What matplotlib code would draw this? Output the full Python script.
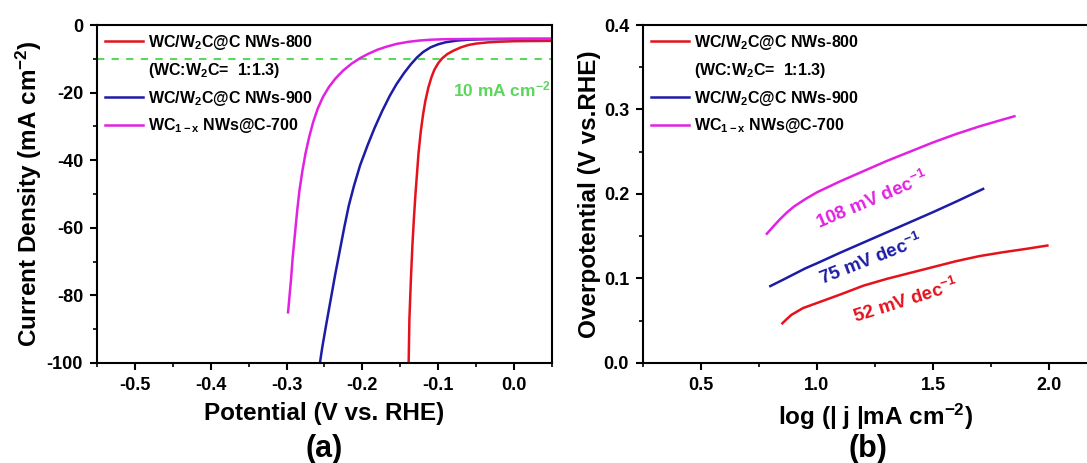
import matplotlib.pyplot as plt
from matplotlib.lines import Line2D
from matplotlib.ticker import MultipleLocator

plt.rcParams['font.family'] = ['Liberation Sans', 'DejaVu Sans']
plt.rcParams['font.weight'] = 'bold'
plt.rcParams['axes.labelweight'] = 'bold'
plt.rcParams['mathtext.fontset'] = 'custom'
plt.rcParams['mathtext.rm'] = 'Liberation Sans:bold'
plt.rcParams['mathtext.bf'] = 'Liberation Sans:bold'
plt.rcParams['mathtext.it'] = 'Liberation Sans:bold'
plt.rcParams['mathtext.default'] = 'bf'
plt.rcParams['axes.unicode_minus'] = False

# (a) polarization curves
lsv_800_x = [0.05, 0.02, 0.0, -0.02, -0.035, -0.05, -0.06, -0.07, -0.08, -0.088, -0.095,
             -0.1, -0.105, -0.109, -0.113, -0.117, -0.12, -0.123, -0.126, -0.128, -0.130,
             -0.132, -0.134, -0.136, -0.138, -0.139]
lsv_800_y = [-4.7, -4.75, -4.8, -4.95, -5.15, -5.5, -5.9, -6.6, -7.6, -8.6, -9.9,
             -11.3, -13.2, -15.5, -18.5, -22.5, -26.5, -31.5, -38, -44, -50,
             -57, -65, -75, -87, -100]
lsv_900_x = [0.05, 0.0, -0.04, -0.06, -0.075, -0.09, -0.1, -0.11, -0.12, -0.128, -0.136,
             -0.145, -0.155, -0.164, -0.174, -0.184, -0.193, -0.203, -0.211, -0.218,
             -0.224, -0.23, -0.236, -0.242, -0.248, -0.253, -0.256]
lsv_900_y = [-4.1, -4.12, -4.2, -4.35, -4.6, -5.1, -5.7, -6.6, -8.0, -9.6, -11.6,
             -14.2, -17.5, -21, -25.5, -30.5, -35.5, -41.5, -47.5, -53.5,
             -60, -67, -74, -81.5, -89, -95.5, -100]
lsv_700_x = [0.05, -0.05, -0.09, -0.11, -0.125, -0.14, -0.155, -0.168, -0.18, -0.192,
             -0.203, -0.214, -0.225, -0.235, -0.244, -0.252, -0.259, -0.265, -0.27,
             -0.275, -0.279, -0.283, -0.286, -0.289, -0.292, -0.294, -0.296, -0.298]
lsv_700_y = [-4.1, -4.12, -4.2, -4.35, -4.6, -5.0, -5.6, -6.4, -7.3, -8.5,
             -9.8, -11.4, -13.4, -15.7, -18.3, -21.3, -24.8, -28.8, -33,
             -38, -43, -49, -55, -62, -69, -75, -80, -85]

# (b) Tafel plots
tafel_800_x = [0.851, 0.87, 0.89, 0.915, 0.94, 0.97, 1.0, 1.05, 1.1, 1.2, 1.3, 1.4,
               1.5, 1.6, 1.7, 1.8, 1.9, 1.993]
tafel_800_y = [0.047, 0.052, 0.057, 0.061, 0.065, 0.068, 0.071, 0.076, 0.081, 0.0915,
               0.0995, 0.1065, 0.1135, 0.1205, 0.1265, 0.131, 0.135, 0.139]
tafel_900_x = [0.799, 0.85, 0.9, 0.95, 1.0, 1.1, 1.2, 1.3, 1.4, 1.5, 1.6, 1.716]
tafel_900_y = [0.091, 0.098, 0.105, 0.112, 0.118, 0.1305, 0.1425, 0.1545, 0.1665,
               0.1785, 0.191, 0.206]
tafel_700_x = [0.784, 0.81, 0.84, 0.87, 0.9, 0.95, 1.0, 1.1, 1.2, 1.3, 1.4, 1.5, 1.6,
               1.7, 1.8, 1.851]
tafel_700_y = [0.153, 0.161, 0.170, 0.178, 0.185, 0.194, 0.202, 0.215, 0.227, 0.239,
               0.250, 0.261, 0.271, 0.280, 0.288, 0.292]

labels = ['WC/W$_2$C@C NWs-800', '(WC:W$_2$C=  1:1.3)', 'WC/W$_2$C@C NWs-900',
          'WC$_{1-x}$ NWs@C-700']
slopes = ['52 mV dec$^{-1}$', '75 mV dec$^{-1}$', '108 mV dec$^{-1}$']

red, blue, magenta, green = '#e5121c', '#1c1ca6', '#e222e0', '#5cd65c'

fig = plt.figure(figsize=(10.87, 4.63), dpi=100)
ax1 = fig.add_axes([0.0892, 0.216, 0.4186, 0.730])
ax2 = fig.add_axes([0.5915, 0.216, 0.4269, 0.730])

ax1.axhline(-10, color=green, lw=1.5, ls=(0, (3.5, 3.5)))
ax1.plot(lsv_800_x, lsv_800_y, color=red, lw=1.8)
ax1.plot(lsv_900_x, lsv_900_y, color=blue, lw=1.8)
ax1.plot(lsv_700_x, lsv_700_y, color=magenta, lw=1.8)
ax1.text(-0.081, -19.2, '10 mA cm$^{-2}$', color=green, fontsize=12.5,
         va='center', ha='left', clip_on=True)

ax2.plot(tafel_800_x, tafel_800_y, color=red, lw=1.8)
ax2.plot(tafel_900_x, tafel_900_y, color=blue, lw=1.8)
ax2.plot(tafel_700_x, tafel_700_y, color=magenta, lw=1.8)
ax2.text(1.381, 0.074, slopes[0], color=red, fontsize=13.5, rotation=17.5,
         ha='center', va='center')
ax2.text(1.231, 0.122, slopes[1], color=blue, fontsize=13.5, rotation=21.5,
         ha='center', va='center')
ax2.text(1.239, 0.193, slopes[2], color=magenta, fontsize=13.5, rotation=23,
         ha='center', va='center')

handles = [Line2D([], [], color=red, lw=1.8), Line2D([], [], color='none'),
           Line2D([], [], color=blue, lw=1.8), Line2D([], [], color=magenta, lw=1.8)]

for ax in (ax1, ax2):
    for s in ax.spines.values():
        s.set_linewidth(1.5)
    ax.tick_params(which='major', direction='out', length=5, width=1.5,
                   labelsize=13, pad=5)
    ax.tick_params(which='minor', direction='out', length=3, width=1.2)
    ax.legend(handles, labels, loc='upper left', frameon=False, fontsize=11.5,
              handlelength=2.4, handletextpad=0.3, labelspacing=0.55,
              borderaxespad=0.3, borderpad=0.2)

ax1.set_xlim(-0.55, 0.05)
ax1.set_ylim(-100, 0)
ax1.xaxis.set_major_locator(MultipleLocator(0.1))
ax1.xaxis.set_minor_locator(MultipleLocator(0.05))
ax1.yaxis.set_major_locator(MultipleLocator(20))
ax1.yaxis.set_minor_locator(MultipleLocator(10))
ax1.set_xlabel('Potential (V vs. RHE)', fontsize=17.5, labelpad=6)
ax1.set_ylabel('Current Density (mA cm$^{-2}$)', fontsize=17.5, labelpad=2)

ax2.set_xlim(0.25, 2.25)
ax2.set_ylim(0.0, 0.4)
ax2.xaxis.set_major_locator(MultipleLocator(0.5))
ax2.xaxis.set_minor_locator(MultipleLocator(0.25))
ax2.yaxis.set_major_locator(MultipleLocator(0.1))
ax2.yaxis.set_minor_locator(MultipleLocator(0.05))
ax2.set_xlabel('log (| j |mA cm$^{-2}$)', fontsize=17.5, labelpad=6)
ax2.set_ylabel('Overpotential (V vs.RHE)', fontsize=17.5, labelpad=2)

fig.text(324 / 1087, 1 - 449 / 463, '(a)', ha='center', va='center', fontsize=22)
fig.text(868 / 1087, 1 - 449 / 463, '(b)', ha='center', va='center', fontsize=22)

fig.savefig('out.png', dpi=100)
